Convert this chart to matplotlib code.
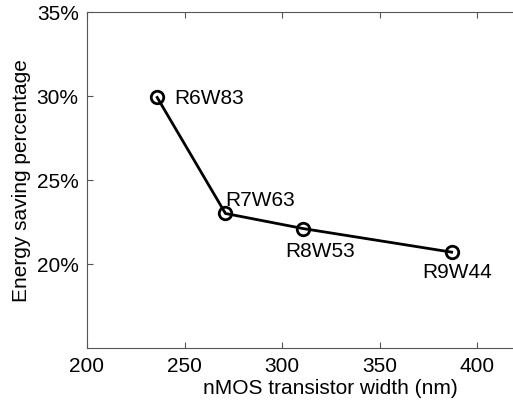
import matplotlib.pyplot as plt
from matplotlib.ticker import FuncFormatter

# data
width_nm = [236, 271, 311, 387]
saving_pct = [29.9, 23.0, 22.1, 20.7]
names = ['R6W83', 'R7W63', 'R8W53', 'R9W44']
xticks = [200, 250, 300, 350, 400]
yticks = [20, 25, 30, 35]

plt.rcParams['font.family'] = ['Liberation Sans', 'DejaVu Sans']
plt.rcParams['font.size'] = 15

fig = plt.figure(figsize=(5.13, 4.02), dpi=100)
ax = fig.add_axes([87 / 513, 53 / 402, 487.5 / 513, 336.3 / 402])

ax.plot(width_nm, saving_pct, color='black', linewidth=2,
        marker='o', markersize=9, markerfacecolor='none',
        markeredgewidth=2, markeredgecolor='black')

# label placement (offsets in points, ha, va)
placement = [((12, 0), 'left', 'center'),
             ((0, 3), 'left', 'bottom'),
             ((12, -9), 'center', 'top'),
             ((4, -7), 'center', 'top')]
for xv, yv, name, (off, ha, va) in zip(width_nm, saving_pct, names, placement):
    ax.annotate(name, (xv, yv), xytext=off, textcoords='offset points',
                ha=ha, va=va, fontsize=15)

ax.set_xlim(200, 450)
ax.set_ylim(15, 35)
ax.set_xticks(xticks)
ax.set_yticks(yticks)
ax.yaxis.set_major_formatter(FuncFormatter(lambda v, p: f'{v:.0f}%'))
ax.tick_params(direction='in', length=4, width=0.8, color='#555555',
               top=True, right=True, pad=6)
for s in ax.spines.values():
    s.set_color('#555555')
    s.set_linewidth(0.8)

ax.set_xlabel('nMOS transistor width (nm)', labelpad=2)
ax.set_ylabel('Energy saving percentage', labelpad=4)

fig.savefig('out.png', dpi=100)
